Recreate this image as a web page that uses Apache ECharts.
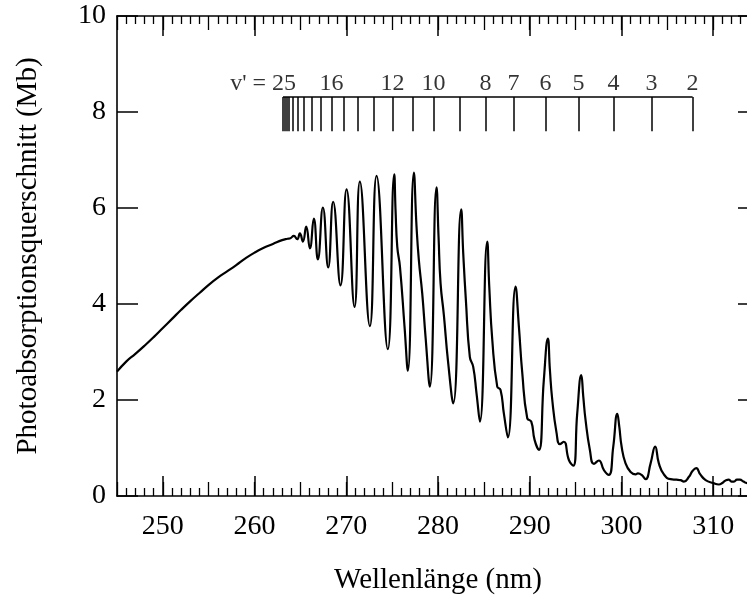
<!DOCTYPE html>
<html><head><meta charset="utf-8">
<script src="https://cdn.jsdelivr.net/npm/echarts@6/dist/echarts.min.js"></script>
<style>html,body{margin:0;padding:0;background:#fff}#c{width:747px;height:597px}</style>
</head><body><div id="c"></div>
<script>
// Photoabsorption cross-section (Mb) vs wavelength (nm)
const wavelength = [
  245.0,246.0,247.0,248.0,249.0,250.0,251.0,252.0,253.0,254.0,255.0,256.0,257.0,258.0,259.0,260.0,261.0,262.0,263.0,263.6,263.9,
  264.28,264.65,264.94,265.27,265.63,266.03,266.46,266.90,267.45,268.03,268.57,269.37,270.03,270.90,271.48,272.57,273.30,274.53,
  275.23,275.37,275.56,275.85,276.35,276.71,277.37,277.66,277.91,278.28,278.64,279.11,279.84,280.06,280.28,280.64,281.08,281.66,
  282.53,282.75,283.04,283.47,283.84,284.20,284.57,285.37,285.59,285.92,286.46,286.82,287.18,287.62,288.46,288.82,289.19,289.73,
  290.17,290.53,291.00,291.54,291.98,292.20,292.46,292.93,293.29,293.72,294.27,294.75,295.18,295.62,295.84,296.09,296.56,297.00,
  297.54,298.09,298.63,299.11,299.55,299.77,300.02,300.45,301.00,301.54,301.80,302.20,302.63,303.18,303.68,304.08,304.63,305.36,
  306.00,306.45,306.81,307.36,307.75,308.15,308.60,309.18,310.00,310.63,311.00,311.40,311.72,312.00,312.26,312.60,312.92,313.30,
  313.72,314.20,315.00
];
const crossSection = [
  2.59,2.80,2.96,3.13,3.31,3.50,3.69,3.88,4.06,4.23,4.40,4.55,4.68,4.81,4.95,5.07,5.17,5.25,5.33,5.36,5.37,
  5.42,5.35,5.47,5.30,5.61,5.16,5.78,4.93,6.01,4.76,6.13,4.39,6.39,3.94,6.55,3.54,6.67,3.06,
  6.70,5.96,5.19,4.78,3.53,2.61,6.74,5.61,4.92,4.22,3.32,2.28,6.43,5.40,4.43,3.77,2.83,1.93,
  5.97,5.06,4.08,2.90,2.69,2.14,1.55,5.30,4.36,3.25,2.28,2.21,1.72,1.22,4.36,3.53,2.56,1.62,
  1.55,1.17,0.96,2.42,3.28,2.63,2.00,1.31,1.08,1.13,0.75,0.63,1.72,2.52,2.07,1.58,0.96,0.67,
  0.74,0.54,0.44,1.03,1.71,1.44,1.03,0.68,0.50,0.45,0.47,0.44,0.35,0.68,1.03,0.68,0.45,0.35,
  0.34,0.33,0.30,0.40,0.52,0.58,0.45,0.33,0.27,0.24,0.27,0.33,0.34,0.30,0.30,0.34,0.34,0.30,
  0.27,0.28,0.28
];
// Vibrational progression v' = 25 ... 2
const levelV = [25,24,23,22,21,20,19,18,17,16,15,14,13,12,11,10,9,8,7,6,5,4,3,2];
const levelWavelength = [263.10,263.27,263.48,263.76,264.14,264.68,265.39,266.21,267.19,268.39,269.70,271.23,272.97,275.04,277.22,279.51,282.35,285.19,288.24,291.73,295.33,299.14,303.29,307.76];
const labelledV = [25,16,12,10,8,7,6,5,4,3,2];
const xTickLabels = [250,260,270,280,290,300,310];
const yTickValues = [0,2,4,6,8,10];

const combTop = 8.31, combBottom = 7.6, labelY = 8.58;
const FONT = 'Liberation Serif';
const tickTxt = {fontFamily: FONT, fontSize: 28, color: '#000'};
const nameTxt = {fontFamily: FONT, fontSize: 29, color: '#000'};
const combTxt = {fontFamily: FONT, fontSize: 24, color: '#000'};

const curve = wavelength.map((w, i) => [w, crossSection[i]]);
const combLines = levelWavelength.map(w => [{coord: [w, combTop]}, {coord: [w, combBottom]}]);
combLines.push([{coord: [levelWavelength[0], combTop]}, {coord: [levelWavelength[levelWavelength.length - 1], combTop]}]);
const labelData = labelledV.map(v => {
  const w = levelWavelength[levelV.indexOf(v)];
  const item = {value: [w, labelY, v]};
  if (v === 25) item.label = {position: 'left', distance: 0, offset: [13, 0]};
  return item;
});

const axisLine = {show: true, onZero: false, lineStyle: {color: '#000', width: 1.6}};
function majorX(pos, labels) {
  return {
    type: 'value', position: pos, min: 245, max: 315, interval: 5,
    axisLine: axisLine, splitLine: {show: false},
    axisTick: {show: true, inside: true, length: 20, customValues: xTickLabels, lineStyle: {color: '#000', width: 1.5}},
    axisLabel: labels ? Object.assign({show: true, margin: 17, customValues: xTickLabels}, tickTxt) : {show: false},
    name: labels ? 'Wellenlänge (nm)' : '', nameLocation: 'middle', nameGap: 70, nameTextStyle: nameTxt
  };
}
function midX(pos) {
  return {
    type: 'value', position: pos, min: 245, max: 315, interval: 5,
    axisLine: {show: false, onZero: false}, splitLine: {show: false},
    axisTick: {show: true, inside: true, length: 14, lineStyle: {color: '#000', width: 1.3}},
    minorTick: {show: true, splitNumber: 5, length: 8, lineStyle: {color: '#000', width: 1.3}},
    axisLabel: {show: false}
  };
}
function yAx(pos, labels) {
  return {
    type: 'value', position: pos, min: 0, max: 10, interval: 2,
    axisLine: axisLine, splitLine: {show: false},
    axisTick: {show: true, inside: true, length: 21, lineStyle: {color: '#000', width: 1.5}},
    axisLabel: labels ? Object.assign({show: true, margin: 11, customValues: yTickValues}, tickTxt) : {show: false},
    name: labels ? 'Photoabsorptionsquerschnitt (Mb)' : '', nameLocation: 'middle', nameGap: 74, nameTextStyle: nameTxt
  };
}

const chart = echarts.init(document.getElementById('c'), null, {renderer: 'canvas'});
chart.setOption({
  animation: false,
  backgroundColor: '#fff',
  grid: {left: 117, top: 16, width: 642, height: 480, containLabel: false, outerBoundsMode: 'none'},
  xAxis: [majorX('bottom', true), majorX('top', false), midX('bottom'), midX('top')],
  yAxis: [yAx('left', true), yAx('right', false)],
  series: [
    {
      type: 'line', data: curve, xAxisIndex: 0, yAxisIndex: 0, showSymbol: false, smooth: 0.5,
      lineStyle: {color: '#000', width: 2.2}, silent: true, clip: true
    },
    {
      type: 'scatter', data: labelData, xAxisIndex: 0, yAxisIndex: 0, symbolSize: 0, silent: true,
      label: Object.assign({show: true, position: 'inside', formatter: p => (p.value[2] === 25 ? "v' = 25" : String(p.value[2]))}, combTxt),
      markLine: {silent: true, symbol: ['none', 'none'], label: {show: false}, lineStyle: {color: '#000', width: 1.5, type: 'solid'}, data: combLines}
    }
  ]
});
</script>
</body></html>
